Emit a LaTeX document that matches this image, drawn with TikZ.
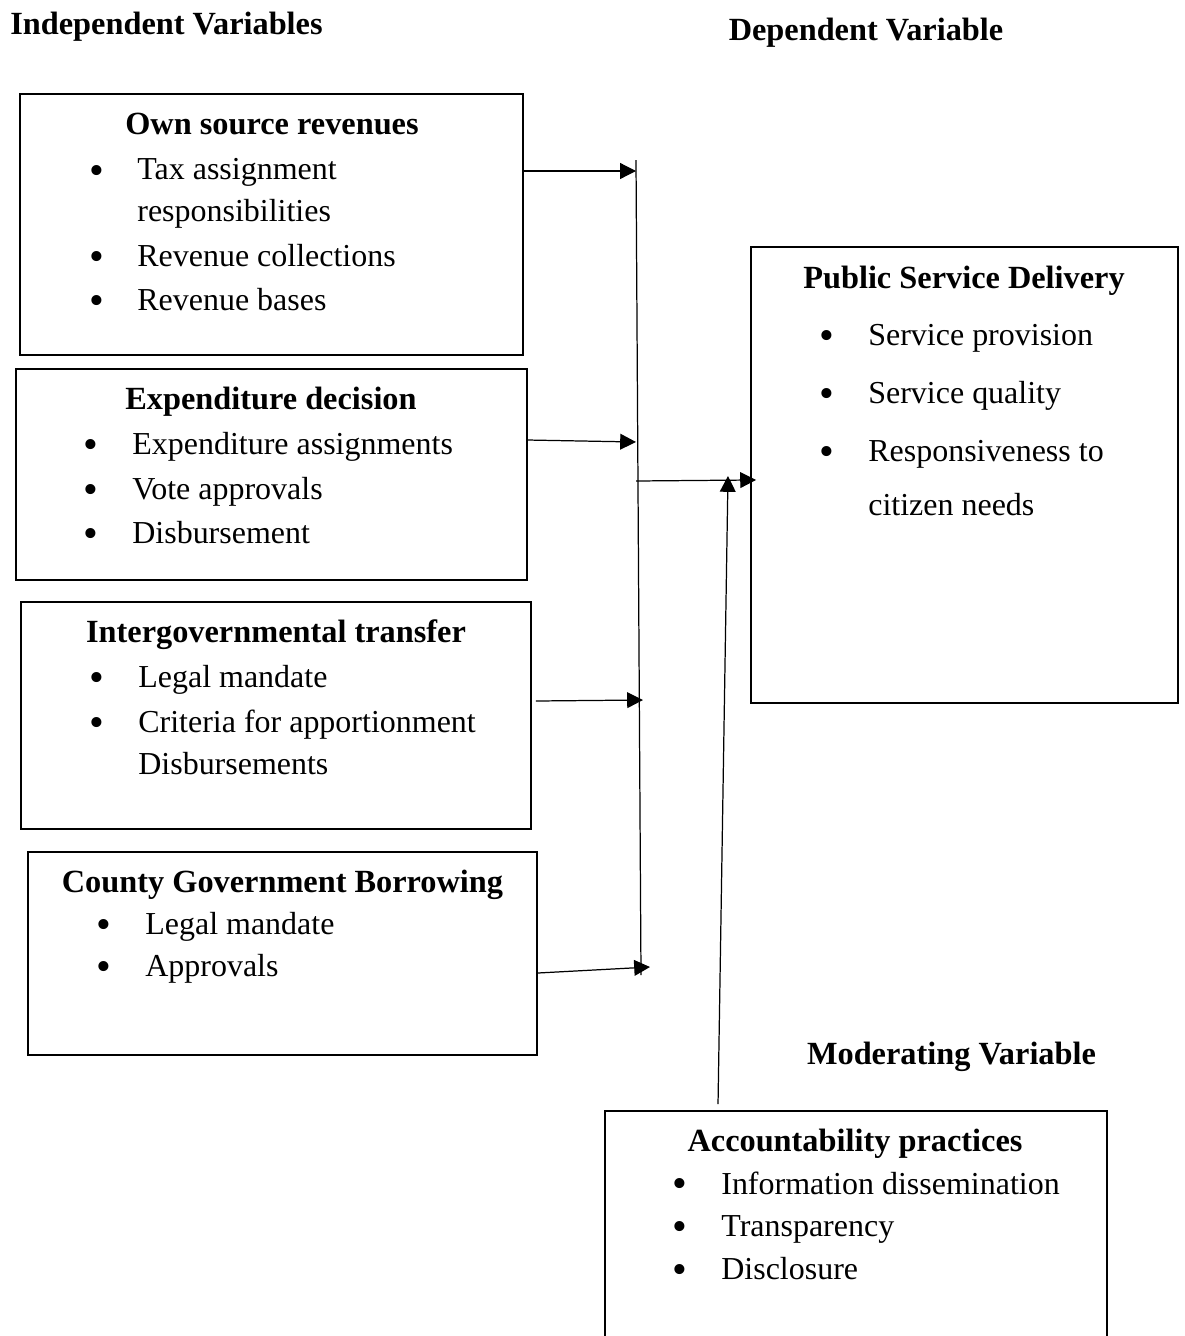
\documentclass[tikz,border=0pt]{standalone}
\usepackage{fontspec}
\setmainfont{Liberation Serif}
\usetikzlibrary{calc,arrows.meta}
\tikzset{
	box/.style={draw, line width=0.7pt, inner sep=0pt, outer sep=0pt},
	head/.style={font=\fontsize{18.4}{22}\selectfont\bfseries, inner sep=0pt, text height=12.6pt, text depth=4.5pt, yshift=-2pt},
	item/.style={font=\fontsize{18.2}{22}\selectfont, anchor=west, inner sep=0pt, text height=12.6pt, text depth=4.5pt, yshift=-2pt},
	dot/.style={font=\fontsize{24}{24}\selectfont, inner sep=0pt, anchor=base, text height=8pt, text depth=0pt, yshift=-7.6pt},
	arr/.style={line width=0.7pt, -{Triangle[length=9pt,width=9pt]}}
}
\begin{document}
\begin{tikzpicture}[x=0.02cm, y=-0.02cm]
		%%%%% START %%%%%
		\useasboundingbox (0, 0) rectangle (1184, 1336);
		
		\node[head] (indep) at (166.5, 24) {Independent Variables};
		\node[head] (dep) at (866, 30) {Dependent Variable};
		\node[head] (mod) at (951.5, 1054) {Moderating Variable};
		
		% own source revenues
		\node[box, minimum width=10.06cm, minimum height=5.22cm] (own) at (271.5, 224.5) {};
		\node[head] (ownT) at (272, 124) {Own source revenues};
		\node[dot] at (97, 171) {•};
		\node[item] at (137, 169) {Tax assignment};
		\node[item] at (137, 211) {responsibilities};
		\node[dot] at (97, 257) {•};
		\node[item] at (137, 256) {Revenue collections};
		\node[dot] at (97, 301) {•};
		\node[item] at (137, 300) {Revenue bases};
		
		% expenditure decision
		\node[box, minimum width=10.22cm, minimum height=4.22cm] (exp) at (271.5, 474.5) {};
		\node[head] (expT) at (271, 399) {Expenditure decision};
		\node[dot] at (91, 445) {•};
		\node[item] at (132, 444) {Expenditure assignments};
		\node[dot] at (91, 490) {•};
		\node[item] at (132, 489) {Vote approvals};
		\node[dot] at (91, 534) {•};
		\node[item] at (132, 533) {Disbursement};
		
		% intergovernmental transfer
		\node[box, minimum width=10.2cm, minimum height=4.54cm] (igt) at (276, 715.5) {};
		\node[head] (igtT) at (276, 632) {Intergovernmental transfer};
		\node[dot] at (97, 678) {•};
		\node[item] at (138, 677) {Legal mandate};
		\node[dot] at (97, 723) {•};
		\node[item] at (138, 722) {Criteria for apportionment};
		\node[item] at (138, 764) {Disbursements};
		
		% county borrowing
		\node[box, minimum width=10.18cm, minimum height=4.06cm] (cgb) at (282.5, 953.5) {};
		\node[head] (cgbT) at (282.5, 882) {County Government Borrowing};
		\node[dot] at (104, 925) {•};
		\node[item] at (145, 924) {Legal mandate};
		\node[dot] at (104, 967) {•};
		\node[item] at (145, 966) {Approvals};
		
		% public service delivery
		\node[box, minimum width=8.54cm, minimum height=9.12cm] (psd) at (964.5, 475) {};
		\node[head] (psdT) at (964, 278) {Public Service Delivery};
		\node[dot] at (827, 336) {•};
		\node[item] at (868, 335) {Service provision};
		\node[dot] at (827, 394) {•};
		\node[item] at (868, 393) {Service quality};
		\node[dot] at (827, 452) {•};
		\node[item] at (868, 451) {Responsiveness to};
		\node[item] at (868, 505) {citizen needs};
		
		% accountability
		\node[box, minimum width=10.04cm, minimum height=4.68cm] (acc) at (856, 1228) {};
		\node[head] (accT) at (855, 1141) {Accountability practices};
		\node[dot] at (680, 1184) {•};
		\node[item] at (721, 1184) {Information dissemination};
		\node[dot] at (680, 1227) {•};
		\node[item] at (721, 1226) {Transparency};
		\node[dot] at (680, 1270) {•};
		\node[item] at (721, 1269) {Disclosure};
		
		% arrows
		\coordinate (bt) at (636, 160);
		\coordinate (bb) at (641, 975);
		\draw[line width=0.7pt] (bt) -- (bb);
		\coordinate (t1) at (636, 171);
		\coordinate (t2) at (636, 442);
		\coordinate (t3) at (643, 700);
		\coordinate (t4) at (650, 967);
		\draw[arr] (own.east |- t1) -- (t1);
		\draw[arr] ($(exp.east |- t2)+(0, -2)$) -- (t2);
		\draw[arr] ($(igt.east |- t3)+(5, 1)$) -- (t3);
		\draw[arr] ($(cgb.east |- t4)+(1, 6)$) -- (t4);
		\coordinate (m1) at (636, 481);
		\draw[arr, shorten >=-0.1cm] (m1) -- ($(psd.west |- m1)+(0, -1)$);
		\coordinate (u1) at (728, 476);
		\draw[arr] ([xshift=-2.76cm, yshift=0.14cm]acc.north) -- (u1);
		%%%%% END %%%%%
\end{tikzpicture}
\end{document}
